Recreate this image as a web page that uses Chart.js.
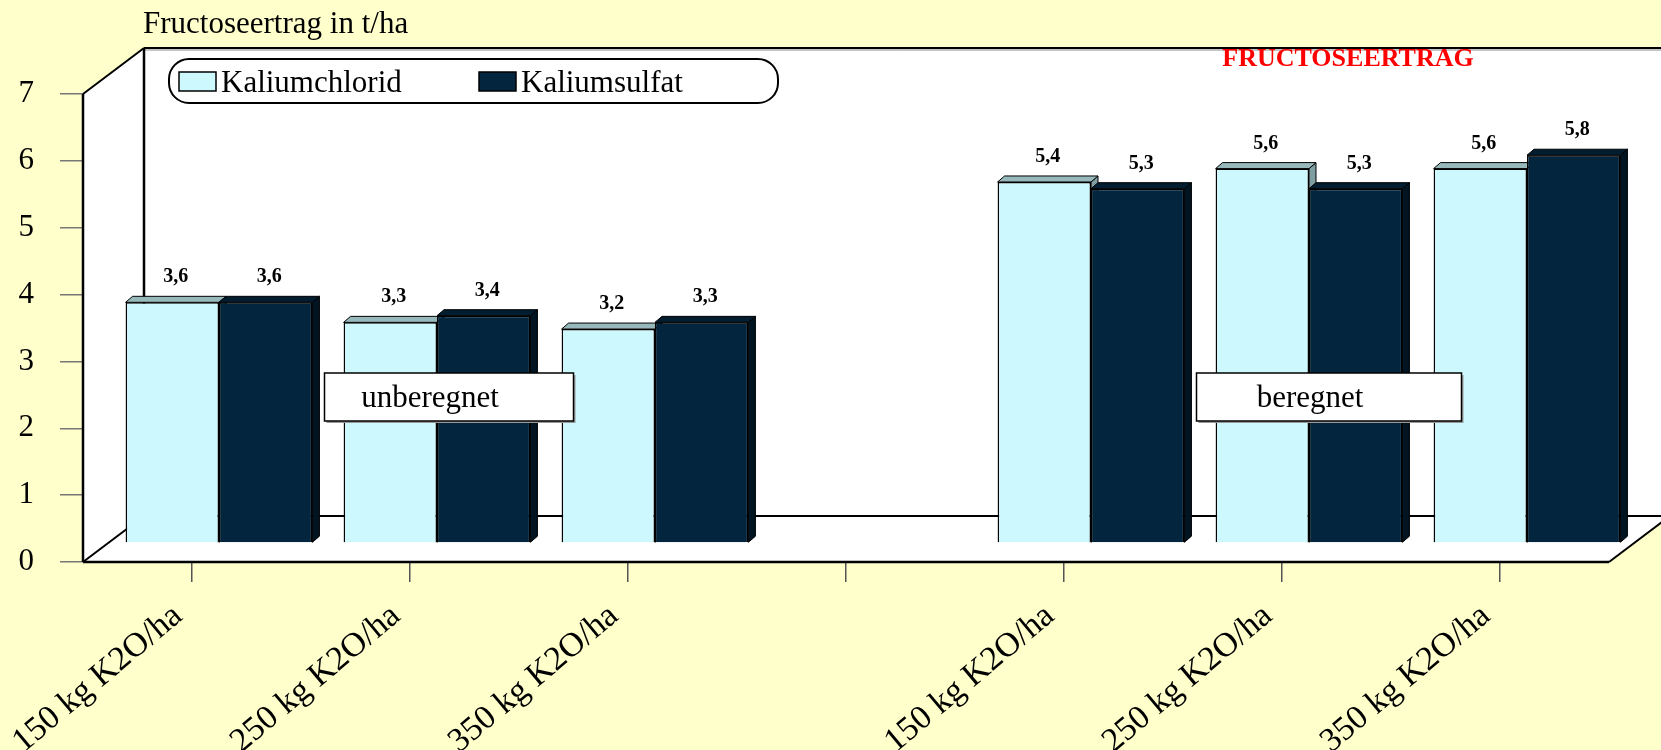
<!DOCTYPE html>
<html>
<head>
<meta charset="utf-8">
<script src="https://cdn.jsdelivr.net/npm/chart.js@4.4.1/dist/chart.umd.min.js"></script>
<style>
  html, body { margin: 0; padding: 0; background: #FFFFCC; }
</style>
</head>
<body>
<canvas id="chart" width="1661" height="750"></canvas>
<script>
var categories = ['150 kg K2O/ha', '250 kg K2O/ha', '350 kg K2O/ha', '', '150 kg K2O/ha', '250 kg K2O/ha', '350 kg K2O/ha'];
var kaliumchlorid = [3.6, 3.3, 3.2, null, 5.4, 5.6, 5.6];
var kaliumsulfat = [3.6, 3.4, 3.3, null, 5.3, 5.3, 5.8];
var seriesNames = ['Kaliumchlorid', 'Kaliumsulfat'];
var groupNames = ['unberegnet', 'beregnet'];
var yMin = 0, yMax = 7, yStep = 1;

var SERIF = '"Liberation Serif", "Times New Roman", serif';
Chart.defaults.font.family = SERIF;
Chart.defaults.color = '#000';

// 3d look
var depthX = 61, depthY = 46;     // walls
var shiftX = 27, shiftY = -19;    // bars stand a bit inside the floor
var barDX = 7, barDY = 6;         // bar depth
var faces = [
  { front: '#CCF8FE', top: '#97B9BC', side: '#7E9EA2' },
  { front: '#03263E', top: '#021D30', side: '#011421' }
];

function poly(ctx, pts, fill, stroke, lw) {
  ctx.beginPath();
  ctx.moveTo(pts[0][0], pts[0][1]);
  for (var i = 1; i < pts.length; i++) ctx.lineTo(pts[i][0], pts[i][1]);
  ctx.closePath();
  if (fill) { ctx.fillStyle = fill; ctx.fill(); }
  if (stroke) { ctx.strokeStyle = stroke; ctx.lineWidth = lw || 1; ctx.stroke(); }
}

function line(ctx, x1, y1, x2, y2, color, lw) {
  ctx.beginPath();
  ctx.moveTo(x1, y1);
  ctx.lineTo(x2, y2);
  ctx.strokeStyle = color;
  ctx.lineWidth = lw;
  ctx.stroke();
}

function fmt(v) {
  return v.toFixed(1).replace('.', ',');
}

var box3d = {
  id: 'box3d',
  beforeDatasetsDraw: function(chart) {
    var ctx = chart.ctx, a = chart.chartArea;
    var L = a.left, R = a.right, T = a.top, B = a.bottom;
    ctx.save();
    // back wall, left wall, floor
    ctx.fillStyle = '#fff';
    ctx.fillRect(L + depthX, T - depthY, chart.width, B - T);
    poly(ctx, [[L, T], [L + depthX, T - depthY], [L + depthX, B - depthY], [L, B]], '#fff');
    poly(ctx, [[L, B], [L + depthX, B - depthY], [R + depthX, B - depthY], [R, B]], '#fff');
    line(ctx, L + depthX, T - depthY + 2, chart.width, T - depthY + 2, '#888', 1);
    line(ctx, L + depthX, T - depthY, chart.width, T - depthY, '#000', 2);
    line(ctx, L + depthX, T - depthY, L + depthX, B - depthY, '#000', 2.5);
    line(ctx, L + depthX, B - depthY, chart.width, B - depthY, '#000', 2);
    line(ctx, L, T, L + depthX, T - depthY, '#000', 2);
    line(ctx, L, B, L + depthX, B - depthY, '#000', 2);
    line(ctx, L, T, L, B, '#000', 2.5);
    line(ctx, L, B, R, B, '#000', 2.5);
    line(ctx, R, B, R + depthX, B - depthY, '#000', 2);

    // top and side faces of the bars
    ctx.translate(shiftX, shiftY);
    ctx.lineJoin = 'round';
    for (var d = 0; d < chart.data.datasets.length; d++) {
      var meta = chart.getDatasetMeta(d);
      meta.data.forEach(function(el, i) {
        var v = chart.data.datasets[d].data[i];
        if (v === null) return;
        var p = el.getProps(['x', 'y', 'base', 'width'], true);
        var l = p.x - p.width / 2, r = p.x + p.width / 2;
        poly(ctx, [[r, p.y], [r + barDX, p.y - barDY], [r + barDX, p.base - barDY], [r, p.base]], faces[d].side, '#000', 1);
        poly(ctx, [[l, p.y], [l + barDX, p.y - barDY], [r + barDX, p.y - barDY], [r, p.y]], faces[d].top, '#000', 1);
      });
    }
    ctx.restore();
  },
  beforeDatasetDraw: function(chart) {
    chart.ctx.save();
    chart.ctx.translate(shiftX, shiftY);
  },
  afterDatasetDraw: function(chart) {
    chart.ctx.restore();
  },
  afterDatasetsDraw: function(chart) {
    var ctx = chart.ctx;
    ctx.save();
    // value labels
    ctx.font = 'bold 20px ' + SERIF;
    ctx.fillStyle = '#000';
    ctx.textAlign = 'center';
    ctx.textBaseline = 'alphabetic';
    for (var d = 0; d < chart.data.datasets.length; d++) {
      var meta = chart.getDatasetMeta(d);
      meta.data.forEach(function(el, i) {
        var v = chart.data.datasets[d].data[i];
        if (v === null) return;
        var p = el.getProps(['x', 'y'], true);
        ctx.fillText(fmt(v), p.x + shiftX + barDX / 2, p.y + shiftY - barDY - 14);
      });
    }
    // group boxes
    var xs = chart.scales.x;
    var boxes = [
      { text: groupNames[0], cx: xs.getPixelForValue(1) + 39, w: 249 },
      { text: groupNames[1], cx: xs.getPixelForValue(5) + 47, w: 265 }
    ];
    ctx.font = '31px ' + SERIF;
    boxes.forEach(function(b) {
      var x = b.cx - b.w / 2, y = 373, h = 48;
      ctx.fillStyle = '#999';
      ctx.fillRect(x + 2, y + 2, b.w, h);
      ctx.fillStyle = '#fff';
      ctx.fillRect(x, y, b.w, h);
      ctx.strokeStyle = '#000';
      ctx.lineWidth = 1.5;
      ctx.strokeRect(x, y, b.w, h);
      ctx.fillStyle = '#000';
      ctx.textAlign = 'center';
      ctx.fillText(b.text, b.cx - 19, y + 34);
    });
    ctx.restore();
  },
  afterDraw: function(chart) {
    var ctx = chart.ctx;
    ctx.save();
    // axis title
    ctx.font = '31px ' + SERIF;
    ctx.fillStyle = '#000';
    ctx.textAlign = 'left';
    ctx.fillText('Fructoseertrag in t/ha', 143, 33);
    // red heading
    ctx.font = 'bold 26px ' + SERIF;
    ctx.fillStyle = '#FF0000';
    ctx.textAlign = 'center';
    ctx.fillText('FRUCTOSEERTRAG', 1348, 66);
    // legend
    ctx.beginPath();
    ctx.roundRect(169, 59, 609, 44, 20);
    ctx.fillStyle = '#fff';
    ctx.fill();
    ctx.strokeStyle = '#000';
    ctx.lineWidth = 2;
    ctx.stroke();
    var lx = [179, 479];
    ctx.font = '31px ' + SERIF;
    ctx.textAlign = 'left';
    for (var d = 0; d < seriesNames.length; d++) {
      ctx.fillStyle = faces[d].front;
      ctx.fillRect(lx[d], 72, 37, 19);
      ctx.lineWidth = 1.5;
      ctx.strokeRect(lx[d], 72, 37, 19);
      ctx.fillStyle = '#000';
      ctx.fillText(seriesNames[d], lx[d] + 42, 92);
    }
    ctx.restore();
  }
};

new Chart(document.getElementById('chart'), {
  type: 'bar',
  data: {
    labels: categories,
    datasets: [{
      label: seriesNames[0],
      data: kaliumchlorid,
      backgroundColor: faces[0].front,
      borderColor: '#000',
      borderWidth: 1.5,
      categoryPercentage: 0.857,
      barPercentage: 1.0,
      clip: false
    }, {
      label: seriesNames[1],
      data: kaliumsulfat,
      backgroundColor: faces[1].front,
      borderColor: '#000',
      borderWidth: 1.5,
      categoryPercentage: 0.857,
      barPercentage: 1.0,
      clip: false
    }]
  },
  options: {
    responsive: false,
    devicePixelRatio: 1,
    animation: false,
    layout: { padding: { top: 94, right: 52, left: 0, bottom: 0 } },
    plugins: {
      legend: { display: false },
      tooltip: { enabled: false }
    },
    scales: {
      x: {
        grid: { offset: false, drawOnChartArea: false, tickLength: 20, color: '#555', lineWidth: 1.5 },
        border: { display: false },
        ticks: {
          autoSkip: false, maxRotation: 40, minRotation: 40,
          font: { size: 34 }, color: '#000', padding: 14, labelOffset: -14
        },
        afterFit: function(scale) { scale.height = 188; }
      },
      y: {
        min: yMin, max: yMax,
        grid: { drawOnChartArea: false, tickLength: 23, color: '#777', lineWidth: 1.5 },
        border: { display: false },
        ticks: { stepSize: yStep, font: { size: 31 }, color: '#000', padding: 26 },
        afterFit: function(scale) { scale.width = 83; }
      }
    }
  },
  plugins: [box3d]
});
</script>
</body>
</html>
